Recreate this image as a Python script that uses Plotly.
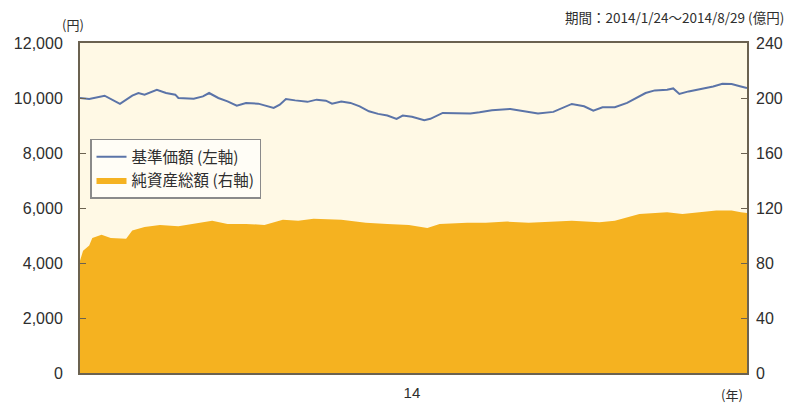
import plotly.graph_objects as go

# NAV (基準価額, left axis, 円)
nav_dates = ["2014-01-24","2014-01-27","2014-02-01","2014-02-06","2014-02-10","2014-02-12",
             "2014-02-14","2014-02-18","2014-02-21","2014-02-24","2014-02-25","2014-03-02",
             "2014-03-05","2014-03-07","2014-03-10","2014-03-13","2014-03-16","2014-03-19",
             "2014-03-23","2014-03-28","2014-03-30","2014-04-01","2014-04-04","2014-04-08",
             "2014-04-11","2014-04-14","2014-04-16","2014-04-19","2014-04-22","2014-04-25",
             "2014-04-28","2014-05-01","2014-05-04","2014-05-07","2014-05-09","2014-05-12",
             "2014-05-16","2014-05-18","2014-05-22","2014-05-26","2014-05-31","2014-06-03",
             "2014-06-07","2014-06-13","2014-06-16","2014-06-19","2014-06-22","2014-06-27",
             "2014-06-30","2014-07-03","2014-07-07","2014-07-10","2014-07-13","2014-07-17",
             "2014-07-21","2014-07-24","2014-07-27","2014-07-30","2014-08-03","2014-08-05",
             "2014-08-07","2014-08-10","2014-08-13","2014-08-18","2014-08-21","2014-08-24",
             "2014-08-27","2014-08-29"]
nav_values = [10000, 9965, 10084, 9784, 10084, 10182,
              10121, 10301, 10182, 10121, 10001, 9976,
              10059, 10182, 10001, 9878, 9723, 9821,
              9795, 9640, 9759, 9965, 9914, 9860,
              9940, 9904, 9795, 9868, 9821, 9698,
              9517, 9423, 9362, 9242, 9362, 9315,
              9192, 9242, 9459, 9459, 9440, 9481,
              9553, 9604, 9542, 9470, 9434, 9495,
              9640, 9784, 9698, 9542, 9662, 9662,
              9821, 10001, 10182, 10276, 10301, 10348,
              10149, 10240, 10301, 10420, 10518, 10507,
              10420, 10362]

# Net assets (純資産総額, right axis, 億円)
asset_dates = ["2014-01-24","2014-01-25","2014-01-27","2014-01-28","2014-01-31","2014-02-03",
               "2014-02-08","2014-02-10","2014-02-14","2014-02-19","2014-02-25","2014-03-01",
               "2014-03-08","2014-03-13","2014-03-19","2014-03-25","2014-03-31","2014-04-05",
               "2014-04-10","2014-04-19","2014-04-27","2014-05-04","2014-05-11","2014-05-17",
               "2014-05-21","2014-05-30","2014-06-05","2014-06-12","2014-06-19","2014-07-03",
               "2014-07-12","2014-07-17","2014-07-25","2014-08-03","2014-08-08","2014-08-19",
               "2014-08-24","2014-08-27","2014-08-29"]
asset_values = [81.7, 88.9, 92.8, 98.1, 100.5, 98.1,
                97.6, 103.6, 106.1, 107.7, 106.8, 108.4,
                110.8, 108.4, 108.4, 107.7, 111.5, 110.8,
                112.1, 111.5, 109.2, 108.4, 107.7, 105.5,
                108.4, 109.2, 109.2, 110.1, 109.2, 110.8,
                109.7, 110.8, 115.7, 116.9, 115.7, 118.1,
                118.1, 116.9, 116.4]

left_ticks = [0, 2000, 4000, 6000, 8000, 10000, 12000]
left_ticktext = ["0", "2,000", "4,000", "6,000", "8,000", "10,000", "12,000"]
right_ticks = [0, 40, 80, 120, 160, 200, 240]
x_tickvals = ["2014-05-12"]
x_ticktext = ["14"]

FONT = "Liberation Sans, Arial, sans-serif"
JP = "Noto Sans CJK JP, sans-serif"
AXIS_COLOR = "#6b6250"
TEXT = "#2e2e2e"

fig = go.Figure()
fig.add_trace(go.Scatter(
    x=asset_dates, y=asset_values, yaxis="y2", mode="lines",
    line=dict(width=0, color="#F5B220"), fill="tozeroy", fillcolor="#F5B220",
    name="純資産総額 (右軸)", hoverinfo="skip"))
fig.add_trace(go.Scatter(
    x=nav_dates, y=nav_values, mode="lines",
    line=dict(width=2, color="#5B74A8"),
    name="基準価額 (左軸)"))

fig.update_layout(
    width=787, height=405,
    margin=dict(l=80, r=40, t=43, b=32, autoexpand=False),
    paper_bgcolor="white", plot_bgcolor="#FFF9E5",
    showlegend=True,
    legend=dict(x=0.015, y=0.71, xanchor="left", yanchor="top",
                bgcolor="#FFFDF6", bordercolor="#8a8a8a", borderwidth=1.5,
                font=dict(family=JP, size=15.5, color=TEXT),
                traceorder="reversed", itemwidth=30, tracegroupgap=2),
    xaxis=dict(type="date", range=["2014-01-24", "2014-08-29"],
               tickvals=x_tickvals, ticktext=x_ticktext, ticks="",
               showgrid=False, zeroline=False, automargin=False,
               showline=True, mirror=True, linecolor=AXIS_COLOR, linewidth=2,
               tickfont=dict(family=FONT, size=15, color=TEXT),
               ticklabelstandoff=5),
    yaxis=dict(range=[0, 12000], tickvals=left_ticks, ticktext=left_ticktext,
               ticks="inside", ticklen=6, tickcolor=AXIS_COLOR,
               showgrid=False, zeroline=False, automargin=False,
               showline=True, mirror=True, linecolor=AXIS_COLOR, linewidth=2,
               tickfont=dict(family=FONT, size=16, color=TEXT),
               ticklabelstandoff=12),
    yaxis2=dict(range=[0, 240], tickvals=right_ticks, overlaying="y", side="right",
                ticks="inside", ticklen=6, tickcolor=AXIS_COLOR,
                showgrid=False, zeroline=False, showline=False, automargin=False,
                tickfont=dict(family=FONT, size=16, color=TEXT),
                ticklabelstandoff=8),
    annotations=[
        dict(text="(円)", xref="paper", yref="paper", x=-0.0105, y=1.0, yshift=19,
             xanchor="center", yanchor="middle", showarrow=False,
             font=dict(family=JP, size=13, color=TEXT)),
        dict(text="期間：2014/1/24～2014/8/29 (億円)", xref="paper", yref="paper",
             x=1.0, xshift=39, y=1.0, yshift=26, xanchor="right", yanchor="middle",
             showarrow=False, font=dict(family=JP, size=13.5, color=TEXT)),
        dict(text="(年)", xref="paper", yref="paper", x=0.978, y=0.0, yshift=-21,
             xanchor="center", yanchor="middle", showarrow=False,
             font=dict(family=JP, size=13, color=TEXT)),
    ],
)

fig.write_html("out.html", config={"displayModeBar": False},
               post_script="document.body.style.margin='0';document.body.style.overflow='hidden';")
